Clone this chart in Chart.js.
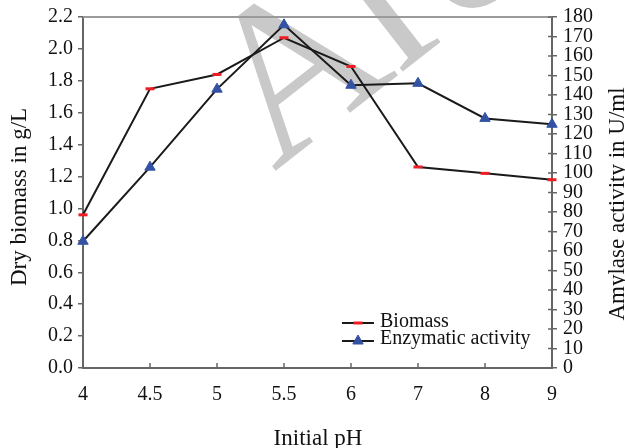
<!DOCTYPE html>
<html>
<head>
<meta charset="utf-8">
<script src="https://cdn.jsdelivr.net/npm/chart.js@4.4.0/dist/chart.umd.min.js"></script>
<style>
  html, body { margin: 0; padding: 0; background: #ffffff; }
  #wrap { width: 625px; height: 448px; position: relative; }
</style>
</head>
<body>
<div id="wrap"><canvas id="chart" width="625" height="448"></canvas></div>
<script>
// data
const phLabels = ['4', '4.5', '5', '5.5', '6', '7', '8', '9'];
const biomass = [0.96, 1.75, 1.84, 2.07, 1.89, 1.26, 1.22, 1.18];
const enzymatic = [65, 103, 143, 176, 145, 146, 128, 125];
const biomassTicks = [0, 0.2, 0.4, 0.6, 0.8, 1.0, 1.2, 1.4, 1.6, 1.8, 2.0, 2.2];
const activityTicks = [0, 10, 20, 30, 40, 50, 60, 70, 80, 90, 100, 110, 120, 130, 140, 150, 160, 170, 180];

const serif = '"Liberation Serif", "Times New Roman", serif';
const textColor = '#111111';
const axisColor = '#666666';

// faint watermark behind the plot
const watermark = {
    id: 'watermark',
    beforeDraw(chart) {
        const ctx = chart.ctx;
        ctx.save();
        ctx.translate(274, 172);
        ctx.rotate(-38 * Math.PI / 180);
        ctx.font = '220px ' + serif;
        ctx.fillStyle = '#c9c9c9';
        ctx.textBaseline = 'alphabetic';
        ctx.fillText('Arc', 0, 0);
        ctx.restore();
    }
};

// frame top line, inner tick marks, titles and legend
function drawExtras(chart) {
    const ctx = chart.ctx;
    const area = chart.chartArea;
    const x = chart.scales.x;
    const y1 = chart.scales.y1;
    ctx.save();

    ctx.strokeStyle = '#9a9a9a';
    ctx.lineWidth = 2;
    ctx.beginPath();
    ctx.moveTo(area.left, area.top);
    ctx.lineTo(area.right, area.top);
    ctx.stroke();

    ctx.strokeStyle = axisColor;
    ctx.lineWidth = 1.5;
    x.ticks.forEach((t, i) => {
        const px = x.getPixelForTick(i);
        ctx.beginPath();
        ctx.moveTo(px, area.bottom);
        ctx.lineTo(px, area.bottom - 5);
        ctx.stroke();
    });
    y1.ticks.forEach((t, i) => {
        const py = y1.getPixelForTick(i);
        ctx.beginPath();
        ctx.moveTo(area.right, py);
        ctx.lineTo(area.right - 4, py);
        ctx.stroke();
    });

    ctx.fillStyle = textColor;
    ctx.font = '23px ' + serif;
    ctx.textAlign = 'center';
    ctx.textBaseline = 'alphabetic';
    ctx.fillText('Initial pH', 318, 445);

    ctx.save();
    ctx.translate(26, 197);
    ctx.rotate(-Math.PI / 2);
    ctx.fillText('Dry biomass in g/L', 0, 0);
    ctx.restore();

    ctx.save();
    ctx.translate(624, 204);
    ctx.rotate(-Math.PI / 2);
    ctx.fillText('Amylase activity in U/ml', 0, 0);
    ctx.restore();

    // legend, samples styled from the datasets
    const rows = [{ ds: 0, lineY: 323, textY: 327 }, { ds: 1, lineY: 341, textY: 344 }];
    rows.forEach(r => {
        const ds = chart.data.datasets[r.ds];
        ctx.strokeStyle = ds.borderColor;
        ctx.lineWidth = ds.borderWidth;
        ctx.beginPath();
        ctx.moveTo(342, r.lineY);
        ctx.lineTo(374, r.lineY);
        ctx.stroke();
        ctx.fillStyle = ds.pointBackgroundColor;
        ctx.strokeStyle = ds.pointBorderColor;
        ctx.lineWidth = ds.pointBorderWidth;
        Chart.helpers.drawPoint(ctx, {
            pointStyle: ds.pointStyle,
            radius: ds.pointRadius,
            borderWidth: ds.pointBorderWidth,
            rotation: 0
        }, 358, r.lineY);
        ctx.fillStyle = textColor;
        ctx.font = '20px ' + serif;
        ctx.textAlign = 'left';
        ctx.fillText(ds.label, 380, r.textY);
    });
    ctx.restore();
}

const ctx = document.getElementById('chart').getContext('2d');

new Chart(ctx, {
    type: 'line',
    data: {
        labels: phLabels,
        datasets: [
            {
                label: 'Biomass',
                data: biomass,
                yAxisID: 'y',
                borderColor: '#1a1a1a',
                borderWidth: 2,
                pointStyle: 'line',
                pointRadius: 4.5,
                pointBorderWidth: 3,
                pointBorderColor: '#ee1d25',
                pointBackgroundColor: '#ee1d25',
                tension: 0,
                clip: false
            },
            {
                label: 'Enzymatic activity',
                data: enzymatic,
                yAxisID: 'y1',
                borderColor: '#1a1a1a',
                borderWidth: 2,
                pointStyle: 'triangle',
                pointRadius: 6,
                pointBorderWidth: 1,
                pointBorderColor: '#3352a3',
                pointBackgroundColor: '#3352a3',
                tension: 0,
                clip: false
            }
        ]
    },
    options: {
        responsive: false,
        animation: false,
        events: [],
        layout: { padding: { top: 17, left: 0, right: 0, bottom: 0 } },
        scales: {
            x: {
                type: 'category',
                offset: false,
                grid: { display: false },
                border: { display: true, color: axisColor, width: 2 },
                ticks: { color: textColor, font: { family: serif, size: 20 }, padding: 7, maxRotation: 0, autoSkip: false },
                afterFit: s => { s.height = 80; }
            },
            y: {
                position: 'left',
                min: 0,
                max: 2.2,
                grid: { display: true, drawOnChartArea: false, drawTicks: true, tickLength: 5, tickColor: axisColor, lineWidth: 1.5 },
                border: { display: true, color: axisColor, width: 2 },
                ticks: {
                    color: textColor,
                    font: { family: serif, size: 20 },
                    padding: 5,
                    autoSkip: false,
                    callback: v => Number(v).toFixed(1)
                },
                afterBuildTicks: s => { s.ticks = biomassTicks.map(v => ({ value: v })); },
                afterFit: s => { s.width = 83; }
            },
            y1: {
                position: 'right',
                min: 0,
                max: 180,
                grid: { display: true, drawOnChartArea: false, drawTicks: true, tickLength: 5, tickColor: axisColor, lineWidth: 1.5 },
                border: { display: true, color: axisColor, width: 2 },
                ticks: {
                    color: textColor,
                    font: { family: serif, size: 20, lineHeight: 1 },
                    padding: 6,
                    autoSkip: false
                },
                afterBuildTicks: s => { s.ticks = activityTicks.map(v => ({ value: v })); },
                afterFit: s => { s.width = 73; }
            }
        },
        plugins: {
            legend: { display: false },
            tooltip: { enabled: false },
            title: { display: false }
        }
    },
    plugins: [watermark, { id: 'extras', afterDraw: drawExtras }]
});
</script>
</body>
</html>
